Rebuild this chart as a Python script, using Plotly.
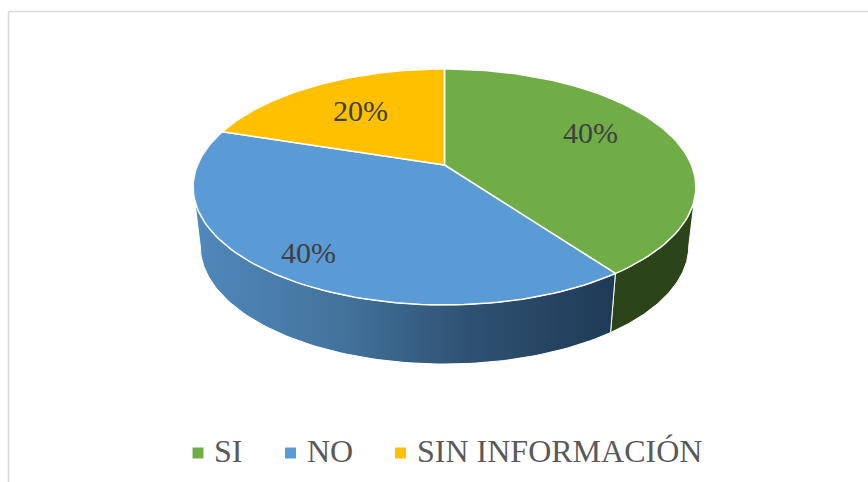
import numpy as np
import plotly.graph_objects as go

categories = ["SI", "NO", "SIN INFORMACIÓN"]
values = [40, 40, 20]
colors = ["#70AD47", "#5B9BD5", "#FFC000"]

# pixel setup of the tilted pie (top face and bottom rim)
W, H = 868, 482
CX = 444.5
K = 0.186  # perspective
TOP_Y, TOP_A, TOP_B = 165, 113.9, 247
BOT_Y, BOT_A, BOT_B = 224, 114, 240
SILHOUETTE = np.degrees(np.arccos(-K))


def project(theta, y0, a, b, r=1.0):
    t = np.radians(theta)
    w = 1 + K * r * np.cos(t)
    return CX + b * r * np.sin(t) / w, y0 - a * r * np.cos(t) / w


def rim(start, end, y0, a, b):
    th = np.linspace(start, end, 90)
    return project(th, y0, a, b)


edges = np.cumsum([0] + values) / sum(values) * 360

fig = go.Figure()

# side walls, only the front ones can be seen
side_styles = [
    dict(fillcolor="#2C4419"),
    dict(fillgradient=dict(type="horizontal", colorscale=[
        [0, "#5089BC"], [0.35, "#43739C"], [0.65, "#2F5273"], [1, "#1F3A56"]])),
]
for i, style in enumerate(side_styles):
    start = max(edges[i], SILHOUETTE)
    end = min(edges[i + 1], 360 - SILHOUETTE)
    tx, ty = rim(start, end, TOP_Y, TOP_A, TOP_B)
    bx, by = rim(end, start, BOT_Y, BOT_A, BOT_B)
    fig.add_trace(go.Scatter(
        x=np.r_[tx, bx, tx[0]], y=np.r_[ty, by, ty[0]], mode="lines",
        fill="toself", line=dict(color="white", width=1), hoverinfo="skip", **style))

# top face slices
for i, name in enumerate(categories):
    x, y = rim(edges[i], edges[i + 1], TOP_Y, TOP_A, TOP_B)
    fig.add_trace(go.Scatter(
        x=np.r_[CX, x, CX], y=np.r_[TOP_Y, y, TOP_Y], mode="lines", name=name,
        fill="toself", fillcolor=colors[i], line=dict(color="white", width=1.5),
        hoverinfo="name"))

# data labels
label_pos = [(590, 132), (308, 252), (360, 110)]
for v, (lx, ly) in zip(values, label_pos):
    fig.add_annotation(x=lx, y=ly, text=f"{v}%", showarrow=False,
                       font=dict(family="Liberation Serif", size=30, color="#404040"))

# legend row
legend_x = [198, 290.5, 400.5]
fig.add_trace(go.Scatter(
    x=legend_x, y=[453] * 3, mode="markers",
    marker=dict(symbol="square", size=11, color=colors), hoverinfo="skip"))
for name, lx in zip(categories, legend_x):
    fig.add_annotation(x=lx + 14, y=451, text=name, showarrow=False, xanchor="left",
                       font=dict(family="Liberation Serif", size=32, color="#595959"))

# chart frame, only the top and left edges are inside the crop
frame = dict(color="#D9D9D9", width=1.5)
fig.add_shape(type="line", x0=8.5, x1=8.5, y0=11.5, y1=H, line=frame)
fig.add_shape(type="line", x0=8.5, x1=W, y0=11.5, y1=11.5, line=frame)

fig.update_xaxes(range=[0, W], visible=False)
fig.update_yaxes(range=[H, 0], visible=False)
fig.update_layout(width=W, height=H, margin=dict(l=0, r=0, t=0, b=0), showlegend=False,
                  paper_bgcolor="white", plot_bgcolor="white")

fig.write_html("out.html", config=dict(displayModeBar=False),
               post_script="document.body.style.margin='0';document.body.style.overflow='hidden';")
